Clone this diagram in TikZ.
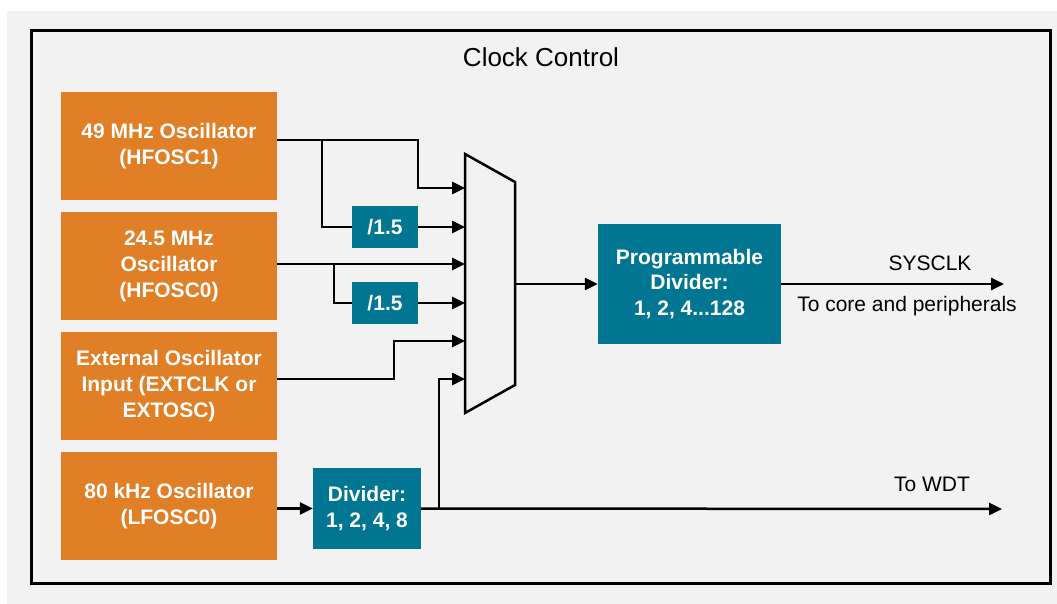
\documentclass[tikz,border=0pt]{standalone}
\usepackage{fontspec}
\setmainfont{Liberation Sans}
\usetikzlibrary{arrows.meta, calc}

\definecolor{oscorange}{RGB}{225,127,38}
\definecolor{divteal}{RGB}{0,118,146}
\definecolor{panelgray}{RGB}{242,242,242}

\begin{document}
\begin{tikzpicture}[x=1pt, y=-1pt,
		osc/.style={fill=oscorange, text=white, font=\fontsize{21}{26}\selectfont\bfseries,
			minimum width=216pt, minimum height=108pt, inner sep=0pt, align=center},
		divbox/.style={fill=divteal, text=white, font=\fontsize{21}{26}\selectfont\bfseries,
			inner sep=0pt, align=center},
		wire/.style={line width=2.5pt},
		tip/.style={-{Triangle[length=13pt,width=12pt]}},
		sigtext/.style={font=\fontsize{21}{25}\selectfont}]
		\useasboundingbox (0,0) rectangle (1057,604);
		\fill [white] (0,0) rectangle (1057,604);
		\fill [panelgray] (7,11) rectangle (1057,604);
		\draw [line width=3pt] (31,31) rectangle (1050,583);
		
		\node [font=\fontsize{26}{30}\selectfont] (title) at (541,57) {Clock Control};
		
		% oscillator sources
		\foreach \n/\y/\txt in {1/146/{49 MHz Oscillator\\(HFOSC1)},
			2/266/{24.5 MHz\\Oscillator\\(HFOSC0)},
			3/386/{External Oscillator\\Input (EXTCLK or\\EXTOSC)},
			4/506/{80 kHz Oscillator\\(LFOSC0)}}
			\node [osc] (osc\n) at (169,\y) {\txt};
		
		% dividers
		\node [divbox, minimum width=66pt, minimum height=42pt] (divA) at (385,227) {/1.5};
		\node [divbox, minimum width=66pt, minimum height=42pt] (divB) at (385,303) {/1.5};
		\node [divbox, minimum width=108pt, minimum height=81pt] (lfdiv) at (367,508.5) {Divider:\\1, 2, 4, 8};
		\node [divbox, minimum width=183pt, minimum height=120pt, font=\fontsize{21}{25.5}\selectfont\bfseries] (pdiv) at (689.5,284) {Programmable\\Divider:\\1, 2, 4...128};
		
		% clock mux
		\draw [wire, line join=miter] (465,154) -- (515,182) -- (515,385) -- (465,413) -- cycle;
		\foreach \i/\y in {1/188, 2/227, 3/264, 4/303, 5/341, 6/379}
			\coordinate (mi\i) at (465,\y);
		\coordinate (mo) at (515,284);
		\coordinate (sysclk) at (1004,284);
		\coordinate (wdt) at (1002,509);
		
		\begin{scope}[wire, tip]
			\draw ([yshift=6pt]osc1.east) -- (418,140) |- (mi1);
			\draw (divA) -- (mi2);
			\draw ([yshift=2pt]osc2.east) -- (mi3);
			\draw (divB) -- (mi4);
			\draw ([yshift=7pt]osc3.east) -- (394,379) |- (mi5);
			\draw (439,509) |- (mi6);
			\draw (osc4.east |- lfdiv.west) -- (lfdiv.west);
			\draw (mo) -- (pdiv.west);
			\draw (pdiv.east) -- (sysclk);
			\draw (lfdiv.east) -- (wdt);
		\end{scope}
		
		\begin{scope}[wire]
			\draw (322,140) |- (divA.west);
			\draw (334,264) |- (divB.west);
		\end{scope}
		
		\node [sigtext] (syslbl) at (930,263) {SYSCLK};
		\node [sigtext] (corelbl) at (907,306) {To core and peripherals};
		\node [sigtext] (wdtlbl) at (932,484) {To WDT};
	\end{tikzpicture}
\end{document}
